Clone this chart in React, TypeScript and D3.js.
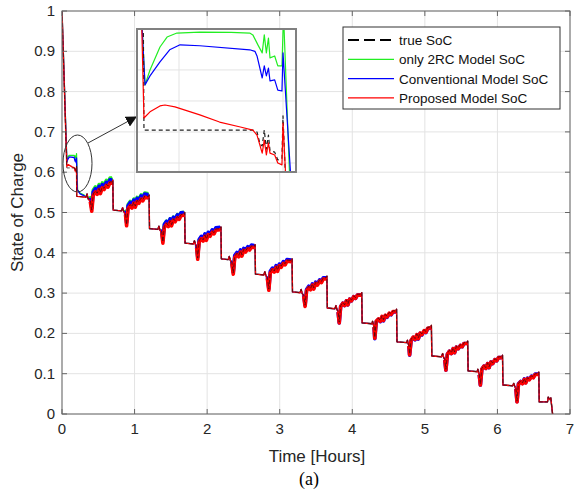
import React from 'react';
import * as d3 from 'd3';

const W = 579;
const H = 493;

// axis ticks
const xTicks = [0, 1, 2, 3, 4, 5, 6, 7];
const yTicks = [0, 0.1, 0.2, 0.3, 0.4, 0.5, 0.6, 0.7, 0.8, 0.9, 1];
const yTickLabels = ['0', '0.1', '0.2', '0.3', '0.4', '0.5', '0.6', '0.7', '0.8', '0.9', '1'];

const legendLabels = ['true SoC', 'only 2RC Model SoC', 'Conventional Model SoC', 'Proposed Model SoC'];

// ---- main plot data: [time (h), SoC] ----
const trueEarly: [number, number][] = [
  [0, 1], [0.066, 0.6106], [0.171, 0.6106], [0.18, 0.6055], [0.186, 0.609], [0.192, 0.6035],
  [0.199, 0.6015], [0.2, 0.615], [0.204, 0.54],
];
const greenEarly: [number, number][] = [
  [0, 1], [0.067, 0.6252], [0.08, 0.637], [0.098, 0.6419], [0.168, 0.6419], [0.18, 0.6355],
  [0.186, 0.6403], [0.195, 0.6313], [0.2, 0.646], [0.215, 0.556], [0.25, 0.548], [0.3, 0.544],
];
const blueEarly: [number, number][] = [
  [0, 1], [0.067, 0.6252], [0.08, 0.632], [0.101, 0.6381], [0.168, 0.6365], [0.18, 0.6274],
  [0.186, 0.6306], [0.195, 0.6235], [0.2, 0.6355], [0.212, 0.556], [0.25, 0.546], [0.3, 0.542],
];
const redEarly: [number, number][] = [
  [0, 1], [0.0663, 0.6145], [0.0865, 0.6187], [0.139, 0.6132], [0.171, 0.6106], [0.18, 0.6032],
  [0.186, 0.6065], [0.195, 0.6], [0.2, 0.6129], [0.204, 0.54],
];

// true SoC after the first transient (pulse-discharge cycles)
const trueTail: [number, number][] = [
  [0.206, 0.54], [0.33, 0.538], [0.345, 0.546], [0.36, 0.534], [0.39, 0.53], [0.41, 0.506], [0.43, 0.546], [0.46, 0.554], [0.485, 0.548], [0.51, 0.56], [0.53, 0.55], [0.555, 0.564], [0.58, 0.56], [0.61, 0.57], [0.635, 0.566], [0.66, 0.576], [0.69, 0.576], [0.70, 0.58],
  [0.706, 0.506], [0.82, 0.504], [0.835, 0.512], [0.85, 0.502], [0.875, 0.498], [0.89, 0.47], [0.91, 0.512], [0.94, 0.52], [0.965, 0.514], [0.99, 0.526], [1.01, 0.516], [1.035, 0.53], [1.06, 0.526], [1.09, 0.536], [1.115, 0.532], [1.14, 0.541], [1.19, 0.539], [1.2, 0.543],
  [1.206, 0.46], [1.32, 0.458], [1.335, 0.466], [1.35, 0.456], [1.375, 0.452], [1.39, 0.427], [1.41, 0.466], [1.44, 0.474], [1.465, 0.468], [1.49, 0.48], [1.51, 0.47], [1.535, 0.484], [1.56, 0.48], [1.59, 0.49], [1.615, 0.486], [1.64, 0.495], [1.68, 0.496], [1.69, 0.5],
  [1.696, 0.424], [1.81, 0.422], [1.825, 0.43], [1.84, 0.42], [1.855, 0.416], [1.87, 0.387], [1.89, 0.43], [1.92, 0.438], [1.945, 0.432], [1.97, 0.444], [1.99, 0.434], [2.015, 0.448], [2.04, 0.444], [2.07, 0.454], [2.095, 0.45], [2.12, 0.459], [2.18, 0.46], [2.19, 0.464],
  [2.196, 0.385], [2.29, 0.383], [2.305, 0.391], [2.32, 0.381], [2.34, 0.377], [2.36, 0.35], [2.38, 0.391], [2.41, 0.399], [2.435, 0.393], [2.46, 0.405], [2.48, 0.395], [2.505, 0.409], [2.53, 0.405], [2.56, 0.413], [2.585, 0.41], [2.61, 0.417], [2.65, 0.416], [2.66, 0.42],
  [2.666, 0.347], [2.78, 0.345], [2.795, 0.353], [2.81, 0.343], [2.83, 0.339], [2.85, 0.31], [2.87, 0.353], [2.9, 0.361], [2.925, 0.355], [2.95, 0.367], [2.97, 0.357], [2.995, 0.371], [3.02, 0.367], [3.05, 0.377], [3.075, 0.373], [3.1, 0.382], [3.16, 0.381], [3.17, 0.385],
  [3.176, 0.303], [3.28, 0.301], [3.295, 0.309], [3.31, 0.299], [3.33, 0.295], [3.35, 0.27], [3.37, 0.309], [3.4, 0.317], [3.425, 0.311], [3.45, 0.323], [3.47, 0.313], [3.495, 0.327], [3.52, 0.323], [3.55, 0.333], [3.575, 0.329], [3.6, 0.338], [3.64, 0.338], [3.65, 0.342],
  [3.656, 0.263], [3.76, 0.261], [3.775, 0.269], [3.79, 0.259], [3.805, 0.255], [3.82, 0.228], [3.84, 0.269], [3.87, 0.277], [3.895, 0.271], [3.92, 0.283], [3.94, 0.273], [3.965, 0.287], [3.99, 0.283], [4.02, 0.293], [4.045, 0.289], [4.07, 0.297], [4.12, 0.297], [4.13, 0.301],
  [4.136, 0.226], [4.27, 0.224], [4.28, 0.23], [4.29, 0.222], [4.3, 0.218], [4.31, 0.19], [4.33, 0.232], [4.36, 0.238], [4.385, 0.232], [4.41, 0.244], [4.43, 0.234], [4.455, 0.247], [4.48, 0.243], [4.51, 0.252], [4.535, 0.249], [4.56, 0.256], [4.6, 0.256], [4.61, 0.26],
  [4.616, 0.179], [4.75, 0.177], [4.76, 0.183], [4.77, 0.175], [4.78, 0.171], [4.79, 0.149], [4.81, 0.185], [4.84, 0.193], [4.865, 0.187], [4.89, 0.199], [4.91, 0.189], [4.935, 0.203], [4.96, 0.199], [4.99, 0.209], [5.015, 0.205], [5.04, 0.215], [5.08, 0.216], [5.09, 0.22],
  [5.096, 0.144], [5.23, 0.142], [5.245, 0.15], [5.26, 0.14], [5.275, 0.136], [5.29, 0.111], [5.31, 0.15], [5.34, 0.158], [5.365, 0.152], [5.39, 0.164], [5.41, 0.154], [5.435, 0.168], [5.46, 0.164], [5.49, 0.172], [5.515, 0.169], [5.54, 0.177], [5.58, 0.177], [5.59, 0.181],
  [5.596, 0.107], [5.72, 0.105], [5.73, 0.111], [5.74, 0.103], [5.75, 0.099], [5.765, 0.074], [5.785, 0.113], [5.815, 0.121], [5.84, 0.115], [5.865, 0.127], [5.885, 0.117], [5.91, 0.131], [5.935, 0.127], [5.965, 0.137], [5.99, 0.134], [6.015, 0.142], [6.06, 0.142], [6.07, 0.146],
  [6.076, 0.072], [6.21, 0.07], [6.225, 0.076], [6.24, 0.068], [6.255, 0.064], [6.27, 0.032], [6.29, 0.076], [6.32, 0.082], [6.345, 0.077], [6.37, 0.088], [6.39, 0.079], [6.415, 0.09], [6.44, 0.087], [6.47, 0.095], [6.495, 0.092], [6.52, 0.1], [6.56, 0.1], [6.57, 0.104],
  [6.576, 0.03], [6.69, 0.03], [6.7, 0.042], [6.72, 0.036], [6.735, 0.04], [6.76, 0.0], [6.78, -0.03],
];

// rising (loaded) windows of each cycle and the estimators' offsets from the true SoC there
const riseStart = [0.39, 0.875, 1.375, 1.855, 2.34, 2.83, 3.33, 3.805, 4.3, 4.78, 5.275, 5.75, 6.255];
const riseEnd = [0.7, 1.2, 1.69, 2.19, 2.66, 3.17, 3.65, 4.13, 4.61, 5.09, 5.59, 6.07, 6.57];
const greenBias = [0.01, 0.008, 0.005, 0.002, 0.001, 0, 0, 0, 0, 0, 0, 0, 0];
const blueBias = [0.005, 0.005, 0.004, 0.003, 0.002, 0.001, 0, -0.002, -0.003, -0.003, -0.002, -0.002, -0.001];
const redBias = [-0.003, -0.003, -0.003, -0.003, -0.003, -0.003, -0.003, -0.002, -0.002, -0.002, -0.002, -0.002, -0.002];

// ---- inset (zoom of t = 0.06 .. 0.21 h) ----
const insetXGrid = [0.1, 0.2];
const insetYGrid = [0.6, 0.61, 0.62, 0.63];
const insetGreen: [number, number][] = [
  [0.062, 0.66], [0.0673, 0.6252], [0.0721, 0.63], [0.0817, 0.6374], [0.0885, 0.6406], [0.098, 0.6419],
  [0.12, 0.6422], [0.15, 0.6421], [0.168, 0.6419], [0.171, 0.6413], [0.176, 0.638], [0.18, 0.6355],
  [0.182, 0.6413], [0.184, 0.6355], [0.186, 0.6403], [0.1875, 0.6339], [0.192, 0.6345], [0.195, 0.6313],
  [0.199, 0.6313], [0.2005, 0.648], [0.207, 0.59],
];
const insetBlue: [number, number][] = [
  [0.062, 0.66], [0.0673, 0.6252], [0.0721, 0.6281], [0.0817, 0.6326], [0.091, 0.6365], [0.101, 0.6381],
  [0.12, 0.6378], [0.168, 0.6365], [0.173, 0.636], [0.175, 0.6345], [0.18, 0.6274], [0.182, 0.6313],
  [0.184, 0.6281], [0.186, 0.6306], [0.1875, 0.6265], [0.192, 0.6268], [0.195, 0.6235], [0.199, 0.6232],
  [0.2, 0.6355], [0.2085, 0.59],
];
const insetRed: [number, number][] = [
  [0.063, 0.66], [0.0663, 0.6145], [0.0721, 0.6165], [0.0817, 0.6184], [0.0865, 0.6187], [0.0961, 0.6181],
  [0.12, 0.6155], [0.139, 0.6132], [0.159, 0.6116], [0.171, 0.6106], [0.175, 0.609], [0.18, 0.6032],
  [0.182, 0.6074], [0.184, 0.6026], [0.186, 0.6065], [0.1875, 0.6032], [0.192, 0.6026], [0.195, 0.6],
  [0.199, 0.5994], [0.2, 0.6129], [0.2035, 0.59],
];
const insetTrue: [number, number][] = [
  [0.0654, 0.66], [0.0663, 0.6106], [0.171, 0.6106], [0.175, 0.61], [0.178, 0.606], [0.18, 0.6055],
  [0.182, 0.6106], [0.184, 0.6045], [0.186, 0.609], [0.1875, 0.604], [0.192, 0.6035], [0.195, 0.601],
  [0.199, 0.6015], [0.2, 0.6152], [0.203, 0.59],
];

const COLORS = { true: '#000000', green: '#22ee22', blue: '#0000ff', red: '#ff0000' };
const FONT = 'Liberation Sans, Arial, sans-serif';

function withBias(points: [number, number][], bias: number[], fromT: number): [number, number][] {
  return points
    .filter((p) => p[0] > fromT)
    .map(([t, v]) => {
      let b = 0;
      for (let k = 0; k < riseStart.length; k++) {
        if (t >= riseStart[k] && t <= riseEnd[k] - 0.005) b = bias[k];
      }
      return [t, v + b] as [number, number];
    });
}

function riseParts(points: [number, number][], upTo: number): [number, number][][] {
  const out: [number, number][][] = [];
  for (let k = 0; k < riseStart.length && k < upTo; k++) {
    out.push(points.filter((p) => p[0] >= riseStart[k] && p[0] <= riseEnd[k] - 0.005));
  }
  return out;
}

export default function App() {
  const L = 62, R = 570, T = 11, B = 414;
  const x = d3.scaleLinear().domain([0, 7]).range([L, R]);
  const y = d3.scaleLinear().domain([0, 1]).range([B, T]);
  const line = d3.line<[number, number]>().x((d) => x(d[0])).y((d) => y(d[1]));

  const trueSeries = [...trueEarly, ...trueTail];
  const redSeries = [...redEarly, ...withBias(trueTail, redBias, 0.205)];
  const blueSeries = [...blueEarly, ...withBias(trueTail, blueBias, 0.31)];
  const greenSeries = [...greenEarly, ...withBias(trueTail, greenBias, 0.31)];

  const greenRise = riseParts(greenSeries, 5);
  const blueRise = riseParts(blueSeries, 99);
  const redRise = riseParts(redSeries, 99);

  // inset
  const iL = 137, iR = 296, iT = 29, iB = 172;
  const ix = d3.scaleLinear().domain([0.0596, 0.2125]).range([iL, iR]);
  const iy = d3.scaleLinear().domain([0.5971, 0.6432]).range([iB, iT]);
  const iline = d3.line<[number, number]>().x((d) => ix(d[0])).y((d) => iy(d[1]));

  // legend
  const lgX = 343, lgY = 27, lgW = 217, lgH = 82;
  const legendColors = [COLORS.true, COLORS.green, COLORS.blue, COLORS.red];

  return (
    <svg width={W} height={H} style={{ position: 'absolute', left: 0, top: 0, background: '#fff' }} fontFamily={FONT}>
      <defs>
        <clipPath id="mainClip"><rect x={L} y={T} width={R - L} height={B - T} /></clipPath>
        <clipPath id="insetClip"><rect x={iL} y={iT} width={iR - iL} height={iB - iT} /></clipPath>
        <marker id="arrowHead" viewBox="0 0 10 10" refX="9" refY="5" markerWidth="11" markerHeight="11" markerUnits="userSpaceOnUse" orient="auto">
          <path d="M0,0 L10,5 L0,10 z" fill="#111" />
        </marker>
      </defs>
      <rect x={0} y={0} width={W} height={H} fill="#fff" />
      {/* grid */}
      {xTicks.map((t) => (
        <line key={'gx' + t} x1={x(t)} x2={x(t)} y1={T} y2={B} stroke="#e3e3e3" strokeWidth={1} />
      ))}
      {yTicks.map((t) => (
        <line key={'gy' + t} x1={L} x2={R} y1={y(t)} y2={y(t)} stroke="#e3e3e3" strokeWidth={1} />
      ))}
      {/* series */}
      <g clipPath="url(#mainClip)" fill="none" strokeLinejoin="round">
        <path d={line(greenSeries) || ''} stroke={COLORS.green} strokeWidth={1.3} />
        {greenRise.map((s, i) => <path key={'gr' + i} d={line(s) || ''} stroke={COLORS.green} strokeWidth={3.2} />)}
        <path d={line(blueSeries) || ''} stroke={COLORS.blue} strokeWidth={1.3} />
        {blueRise.map((s, i) => <path key={'br' + i} d={line(s) || ''} stroke={COLORS.blue} strokeWidth={3.6} />)}
        <path d={line(redSeries) || ''} stroke={COLORS.red} strokeWidth={1.4} />
        {redRise.map((s, i) => <path key={'rr' + i} d={line(s) || ''} stroke={COLORS.red} strokeWidth={3.6} />)}
        <path d={line(trueSeries) || ''} stroke="#3a0a14" strokeWidth={1} strokeDasharray="4,2" opacity={0.75} />
      </g>
      {/* axes box */}
      <rect x={L} y={T} width={R - L} height={B - T} fill="none" stroke="#666" strokeWidth={1} />
      {xTicks.map((t) => (
        <g key={'tx' + t}>
          <line x1={x(t)} x2={x(t)} y1={B} y2={B - 5} stroke="#666" />
          <line x1={x(t)} x2={x(t)} y1={T} y2={T + 5} stroke="#666" />
          <text x={x(t)} y={B + 20} fontSize={15} fill="#262626" textAnchor="middle">{t}</text>
        </g>
      ))}
      {yTicks.map((t, i) => (
        <g key={'ty' + t}>
          <line x1={L} x2={L + 5} y1={y(t)} y2={y(t)} stroke="#666" />
          <line x1={R} x2={R - 5} y1={y(t)} y2={y(t)} stroke="#666" />
          <text x={L - 7} y={y(t) + 5} fontSize={15} fill="#262626" textAnchor="end">{yTickLabels[i]}</text>
        </g>
      ))}
      <text x={317} y={462} fontSize={17} fill="#262626" textAnchor="middle">Time [Hours]</text>
      <text transform={`translate(23,${(T + B) / 2}) rotate(-90)`} fontSize={17} fill="#262626" textAnchor="middle">State of Charge</text>
      <text x={309} y={485} fontSize={18} fill="#000" textAnchor="middle" fontFamily="Liberation Serif, Times New Roman, serif">(a)</text>

      {/* ellipse + arrow */}
      <ellipse cx={77.5} cy={163.5} rx={14.5} ry={28.5} fill="none" stroke="#333" strokeWidth={1} />
      <line x1={88} x2={136} y1={143} y2={117} stroke="#333" strokeWidth={1} markerEnd="url(#arrowHead)" />

      {/* inset */}
      <rect x={iL} y={iT} width={iR - iL} height={iB - iT} fill="#fff" />
      {insetXGrid.map((t) => (
        <line key={'ixg' + t} x1={ix(t)} x2={ix(t)} y1={iT} y2={iB} stroke="#e3e3e3" />
      ))}
      {insetYGrid.map((t) => (
        <line key={'iyg' + t} x1={iL} x2={iR} y1={iy(t)} y2={iy(t)} stroke="#e3e3e3" />
      ))}
      <g clipPath="url(#insetClip)" fill="none" strokeLinejoin="round">
        <path d={iline(insetGreen) || ''} stroke={COLORS.green} strokeWidth={1.2} />
        <path d={iline(insetBlue) || ''} stroke={COLORS.blue} strokeWidth={1.2} />
        <path d={iline(insetTrue) || ''} stroke="#222" strokeWidth={1.2} strokeDasharray="4,3" />
        <path d={iline(insetRed) || ''} stroke={COLORS.red} strokeWidth={1.2} />
      </g>
      <rect x={iL} y={iT} width={iR - iL} height={iB - iT} fill="none" stroke="#808080" strokeWidth={2} />

      {/* legend */}
      <rect x={lgX} y={lgY} width={lgW} height={lgH} fill="#fff" stroke="#333" strokeWidth={1} />
      {legendLabels.map((lab, i) => {
        const yy = lgY + 13 + i * 19.3;
        return (
          <g key={lab}>
            <line x1={348} x2={394} y1={yy} y2={yy} stroke={legendColors[i]} strokeWidth={i === 0 ? 2 : 1.2}
              strokeDasharray={i === 0 ? '11,5' : undefined} />
            <text x={399} y={yy + 5} fontSize={13.5} fill="#111">{lab}</text>
          </g>
        );
      })}
    </svg>
  );
}
